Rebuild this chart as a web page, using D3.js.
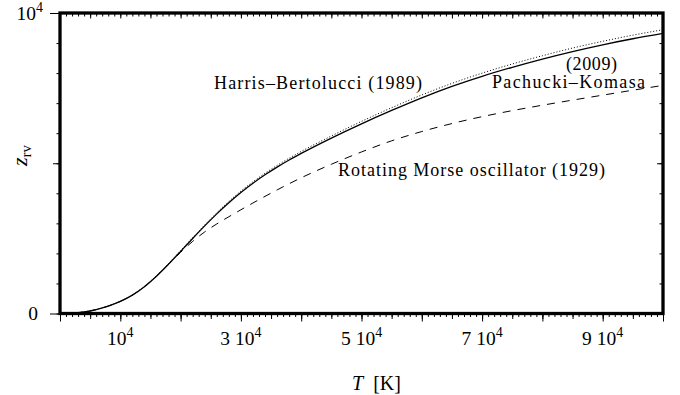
<!DOCTYPE html>
<html>
<head>
<meta charset="utf-8">
<script src="https://cdn.jsdelivr.net/npm/d3@7"></script>
<style>
  html, body { margin: 0; padding: 0; background: #fff; }
  svg text { font-family: "Liberation Serif", "Times New Roman", serif; fill: #000; }
</style>
</head>
<body>
<div id="chart"></div>
<script>
// temperature grid [K]
var tempK = [0, 2000, 4000, 6000, 8000, 10000, 12000, 14000, 16000, 18000, 20000,
  22000, 24000, 26000, 28000, 30000, 32000, 34000, 36000, 38000, 40000,
  45000, 50000, 55000, 60000, 65000, 70000, 75000, 80000, 85000, 90000, 95000, 100000];
// Pachucki-Komasa (2009), solid
var pachuckiKomasa = [0, 10, 50, 130, 246, 402, 612, 892, 1242, 1642, 2066,
  2496, 2916, 3316, 3688, 4028, 4336, 4616, 4872, 5108, 5328,
  5838, 6313, 6758, 7178, 7558, 7893, 8193, 8468, 8718, 8943, 9143, 9323];
// Harris-Bertolucci (1989), dotted
var harrisBertolucci = [0, 10, 50, 130, 246, 407, 620, 904, 1257, 1662, 2091,
  2524, 2948, 3352, 3728, 4073, 4384, 4668, 4928, 5168, 5392,
  5908, 6393, 6848, 7273, 7658, 7998, 8303, 8578, 8833, 9058, 9263, 9443];
// Rotating Morse oscillator (1929), dashed
var rotatingMorse = [0, 10, 50, 130, 246, 402, 612, 892, 1242, 1640, 2035,
  2400, 2715, 2980, 3220, 3452, 3678, 3898, 4112, 4318, 4516,
  4966, 5376, 5746, 6056, 6321, 6551, 6751, 6931, 7101, 7266, 7431, 7591];

var xLabelTicks = [10000, 30000, 50000, 70000, 90000];
var yLabelTicks = [0, 10000];

(function () {
  'use strict';

  var width = 680, height = 395;
  var mLeft = 60, mRight = 663, mTop = 13, mBottom = 313.5;

  var svg = d3.select('#chart').append('svg')
    .attr('width', width)
    .attr('height', height);

  var x = d3.scaleLinear().domain([0, 100000]).range([mLeft, mRight]);
  var y = d3.scaleLinear().domain([0, 10000]).range([mBottom, mTop]);

  var minorX = d3.range(0, 100001, 1000),
    midX = d3.range(0, 100001, 5000),
    majorX = d3.range(0, 100001, 10000),
    minorY = d3.range(0, 10001, 1000),
    midY = [5000];

  function tickGroup(axis, tx, ty) {
    var g = svg.append('g')
      .attr('transform', 'translate(' + tx + ',' + ty + ')')
      .call(axis);
    g.select('.domain').remove();
    g.selectAll('line').attr('stroke', '#000').attr('stroke-width', 1);
    g.selectAll('text').remove();
    return g;
  }

  // bottom ticks (outside)
  tickGroup(d3.axisBottom(x).tickValues(minorX).tickSize(3.5), 0, mBottom);
  tickGroup(d3.axisBottom(x).tickValues(midX).tickSize(5.5), 0, mBottom);
  tickGroup(d3.axisBottom(x).tickValues(majorX).tickSize(8), 0, mBottom);
  // top ticks (inside)
  tickGroup(d3.axisTop(x).tickValues(minorX).tickSize(-3.5), 0, mTop);
  tickGroup(d3.axisTop(x).tickValues(midX).tickSize(-5.5), 0, mTop);
  // left ticks (outside)
  tickGroup(d3.axisLeft(y).tickValues(minorY).tickSize(3.5), mLeft, 0);
  tickGroup(d3.axisLeft(y).tickValues(midY).tickSize(7), mLeft, 0);
  tickGroup(d3.axisLeft(y).tickValues(yLabelTicks).tickSize(10), mLeft, 0);
  // right ticks (inside)
  tickGroup(d3.axisRight(y).tickValues(minorY).tickSize(-3.5), mRight, 0);
  tickGroup(d3.axisRight(y).tickValues(midY).tickSize(-6), mRight, 0);

  // curves
  svg.append('clipPath').attr('id', 'plotclip')
    .append('rect')
    .attr('x', mLeft).attr('y', mTop)
    .attr('width', mRight - mLeft).attr('height', mBottom - mTop);

  var line = d3.line()
    .x(function(d) { return x(d[0]); })
    .y(function(d) { return y(d[1]); })
    .curve(d3.curveMonotoneX);

  function pairs(vals) {
    return tempK.map(function(t, i) { return [t, vals[i]]; });
  }

  var curves = svg.append('g').attr('clip-path', 'url(#plotclip)');

  curves.append('path')
    .datum(pairs(rotatingMorse))
    .attr('d', line)
    .attr('fill', 'none')
    .attr('stroke', '#000')
    .attr('stroke-width', 1)
    .attr('stroke-dasharray', '8,7');

  curves.append('path')
    .datum(pairs(harrisBertolucci))
    .attr('d', line)
    .attr('fill', 'none')
    .attr('stroke', '#000')
    .attr('stroke-width', 1)
    .attr('stroke-dasharray', '1,2');

  curves.append('path')
    .datum(pairs(pachuckiKomasa))
    .attr('d', line)
    .attr('fill', 'none')
    .attr('stroke', '#000')
    .attr('stroke-width', 1.3);

  // frame
  svg.append('rect')
    .attr('x', mLeft).attr('y', mTop)
    .attr('width', mRight - mLeft).attr('height', mBottom - mTop)
    .attr('fill', 'none')
    .attr('stroke', '#000')
    .attr('stroke-width', 3.3);

  // x tick labels
  xLabelTicks.forEach(function(v) {
    var k = Math.round(v / 10000);
    var t = svg.append('text')
      .attr('x', x(v))
      .attr('y', 345)
      .attr('text-anchor', 'middle')
      .style('font-size', '19.5px');
    if (k === 1) {
      t.append('tspan').text('10');
    } else {
      t.append('tspan').text(k);
      t.append('tspan').attr('dx', 5).text('10');
    }
    t.append('tspan').attr('dy', -8).style('font-size', '14px').text('4');
  });

  // y tick labels
  svg.append('text')
    .attr('x', 38).attr('y', y(0) + 6.5)
    .attr('text-anchor', 'end')
    .style('font-size', '19.5px')
    .text('0');
  var yt = svg.append('text')
    .attr('x', 43).attr('y', y(10000) + 7)
    .attr('text-anchor', 'end')
    .style('font-size', '19.5px');
  yt.append('tspan').text('10');
  yt.append('tspan').attr('dy', -8).style('font-size', '14px').text('4');

  // axis titles
  var xt = svg.append('text')
    .attr('x', 352).attr('y', 390)
    .style('font-size', '20px');
  xt.append('tspan').style('font-style', 'italic').text('T');
  xt.append('tspan').attr('dx', 10).text('[K]');

  var ytl = svg.append('text')
    .attr('transform', 'translate(27,166) rotate(-90)')
    .style('font-size', '22px');
  ytl.append('tspan').style('font-style', 'italic').text('z');
  ytl.append('tspan').attr('dy', 4).style('font-size', '15px').text('rv');

  // curve annotations
  function note(txt, x0, y0, len) {
    svg.append('text')
      .attr('x', x0).attr('y', y0)
      .attr('textLength', len)
      .attr('lengthAdjust', 'spacing')
      .style('font-size', '18px')
      .text(txt);
  }
  note('Harris\u2013Bertolucci (1989)', 214, 89, 208);
  note('(2009)', 566, 70, 51);
  note('Pachucki\u2013Komasa', 492, 88, 153);
  note('Rotating Morse oscillator (1929)', 338, 176, 267);
})();
</script>
</body>
</html>
